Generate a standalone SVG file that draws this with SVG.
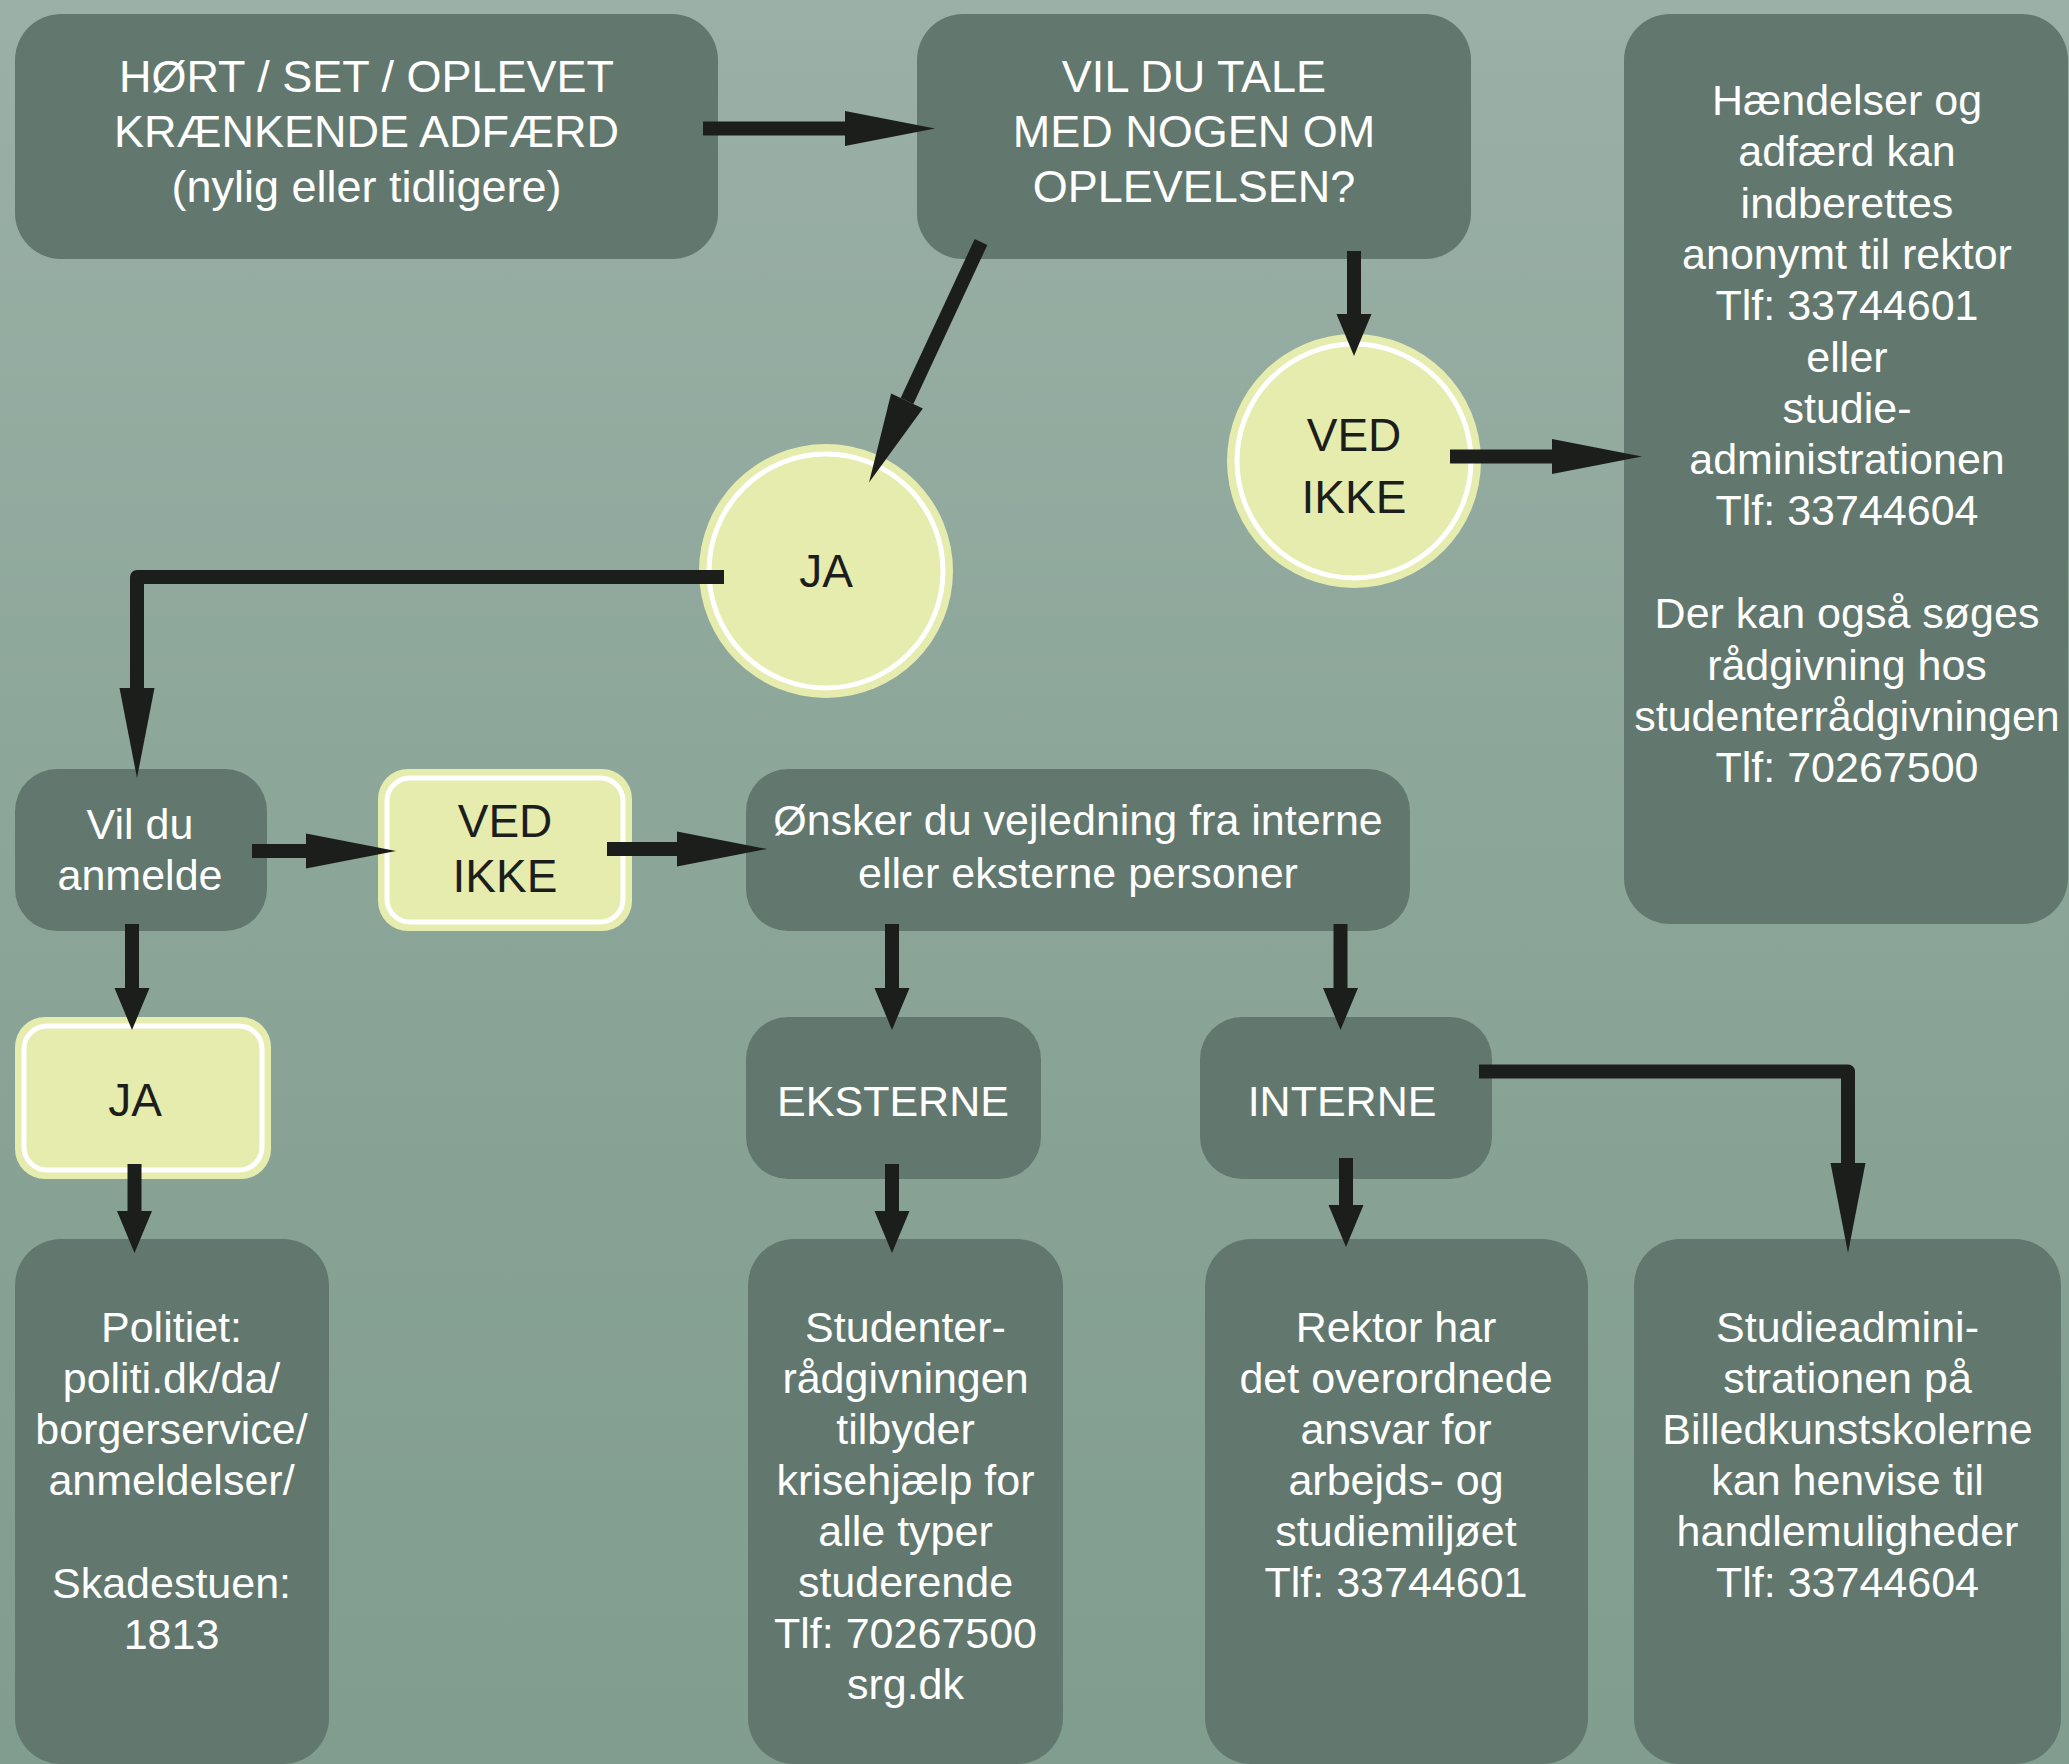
<svg xmlns="http://www.w3.org/2000/svg" width="2069" height="1764" viewBox="0 0 2069 1764">
<defs>
<linearGradient id="bg" x1="0" y1="0" x2="0" y2="1">
<stop offset="0" stop-color="#9bb0a7"/>
<stop offset="0.5" stop-color="#8ba598"/>
<stop offset="1" stop-color="#809d90"/>
</linearGradient>
<marker id="hl" markerUnits="userSpaceOnUse" markerWidth="92" markerHeight="40" refX="0" refY="0" orient="auto" overflow="visible" viewBox="0 -20 92 40">
<path d="M0,-17.5 L90,0 L0,17.5 Z" fill="#1c1e1c"/>
</marker>
<marker id="hs" markerUnits="userSpaceOnUse" markerWidth="44" markerHeight="40" refX="0" refY="0" orient="auto" overflow="visible" viewBox="0 -20 44 40">
<path d="M0,-17.5 L42,0 L0,17.5 Z" fill="#1c1e1c"/>
</marker>
</defs>
<style>
.box{fill:#62786e}
.yel{fill:#e6ecae}
.ring{fill:none;stroke:#ffffff;stroke-width:5}
.tw{fill:#ffffff;font-family:"Liberation Sans",Arial,sans-serif;font-size:43px;text-anchor:middle}
.tu{font-size:45px}
.tb{fill:#1c1e1c;font-family:"Liberation Sans",Arial,sans-serif;font-size:46px;text-anchor:middle}
.c{fill:none;stroke:#1c1e1c;stroke-width:14;stroke-linejoin:round}
.cl{marker-end:url(#hl)}
.cs{marker-end:url(#hs)}
</style>
<rect x="0" y="0" width="2069" height="1764" fill="url(#bg)"/>

<g id="n-hort">
<rect class="box" x="15" y="14" width="703" height="245" rx="46"/>
<text class="tw tu" x="366.5" y="92">HØRT / SET / OPLEVET</text>
<text class="tw tu" x="366.5" y="147">KRÆNKENDE ADFÆRD</text>
<text class="tw tu" x="366.5" y="202">(nylig eller tidligere)</text>
</g>

<g id="n-vil-du-tale">
<rect class="box" x="917" y="14" width="554" height="245" rx="46"/>
<text class="tw tu" x="1194" y="92">VIL DU TALE</text>
<text class="tw tu" x="1194" y="147">MED NOGEN OM</text>
<text class="tw tu" x="1194" y="202">OPLEVELSEN?</text>
</g>

<g id="n-info">
<rect class="box" x="1624" y="14" width="444" height="910" rx="46"/>
<text class="tw" x="1847" y="115">Hændelser og</text>
<text class="tw" x="1847" y="166">adfærd kan</text>
<text class="tw" x="1847" y="218">indberettes</text>
<text class="tw" x="1847" y="269">anonymt til rektor</text>
<text class="tw" x="1847" y="320">Tlf: 33744601</text>
<text class="tw" x="1847" y="372">eller</text>
<text class="tw" x="1847" y="423">studie-</text>
<text class="tw" x="1847" y="474">administrationen</text>
<text class="tw" x="1847" y="525">Tlf: 33744604</text>
<text class="tw" x="1847" y="628">Der kan også søges</text>
<text class="tw" x="1847" y="680">rådgivning hos</text>
<text class="tw" x="1847" y="731">studenterrådgivningen</text>
<text class="tw" x="1847" y="782">Tlf: 70267500</text>
</g>

<g id="n-ved-ikke-1">
<circle class="yel" cx="1354" cy="461" r="127"/>
<circle class="ring" cx="1354" cy="461" r="117"/>
<text class="tb" x="1354" y="451">VED</text>
<text class="tb" x="1354" y="513">IKKE</text>
</g>

<g id="n-ja-1">
<circle class="yel" cx="826" cy="571" r="127"/>
<circle class="ring" cx="826" cy="571" r="117"/>
<text class="tb" x="826" y="587">JA</text>
</g>

<g id="n-anmelde">
<rect class="box" x="15" y="769" width="252" height="162" rx="42"/>
<text class="tw" x="140" y="839">Vil du</text>
<text class="tw" x="140" y="890">anmelde</text>
</g>

<g id="n-ved-ikke-2">
<rect class="yel" x="378" y="769" width="254" height="162" rx="30"/>
<rect class="ring" x="387" y="778" width="236" height="144" rx="23"/>
<text class="tb" x="505" y="837">VED</text>
<text class="tb" x="505" y="892">IKKE</text>
</g>

<g id="n-onsker">
<rect class="box" x="746" y="769" width="664" height="162" rx="42"/>
<text class="tw" x="1078" y="834.5">Ønsker du vejledning fra interne</text>
<text class="tw" x="1078" y="887.5">eller eksterne personer</text>
</g>

<g id="n-ja-2">
<rect class="yel" x="15" y="1017" width="256" height="162" rx="30"/>
<rect class="ring" x="24" y="1026" width="238" height="144" rx="23"/>
<text class="tb" x="135" y="1115.5">JA</text>
</g>

<g id="n-eksterne">
<rect class="box" x="746" y="1017" width="295" height="162" rx="42"/>
<text class="tw" x="893" y="1115.5">EKSTERNE</text>
</g>

<g id="n-interne">
<rect class="box" x="1200" y="1017" width="292" height="162" rx="42"/>
<text class="tw" x="1342" y="1115.5">INTERNE</text>
</g>

<g id="n-politiet">
<rect class="box" x="15" y="1239" width="314" height="525" rx="46"/>
<text class="tw" x="171.5" y="1342">Politiet:</text>
<text class="tw" x="171.5" y="1393">politi.dk/da/</text>
<text class="tw" x="171.5" y="1444">borgerservice/</text>
<text class="tw" x="171.5" y="1495">anmeldelser/</text>
<text class="tw" x="171.5" y="1598">Skadestuen:</text>
<text class="tw" x="171.5" y="1649">1813</text>
</g>

<g id="n-studenter">
<rect class="box" x="748" y="1239" width="315" height="525" rx="46"/>
<text class="tw" x="905.5" y="1342">Studenter-</text>
<text class="tw" x="905.5" y="1393">rådgivningen</text>
<text class="tw" x="905.5" y="1444">tilbyder</text>
<text class="tw" x="905.5" y="1495">krisehjælp for</text>
<text class="tw" x="905.5" y="1546">alle typer</text>
<text class="tw" x="905.5" y="1597">studerende</text>
<text class="tw" x="905.5" y="1648">Tlf: 70267500</text>
<text class="tw" x="905.5" y="1699">srg.dk</text>
</g>

<g id="n-rektor">
<rect class="box" x="1205" y="1239" width="383" height="525" rx="46"/>
<text class="tw" x="1396" y="1342">Rektor har</text>
<text class="tw" x="1396" y="1393">det overordnede</text>
<text class="tw" x="1396" y="1444">ansvar for</text>
<text class="tw" x="1396" y="1495">arbejds- og</text>
<text class="tw" x="1396" y="1546">studiemiljøet</text>
<text class="tw" x="1396" y="1597">Tlf: 33744601</text>
</g>

<g id="n-studieadmin">
<rect class="box" x="1634" y="1239" width="427" height="525" rx="46"/>
<text class="tw" x="1847.5" y="1342">Studieadmini-</text>
<text class="tw" x="1847.5" y="1393">strationen på</text>
<text class="tw" x="1847.5" y="1444">Billedkunstskolerne</text>
<text class="tw" x="1847.5" y="1495">kan henvise til</text>
<text class="tw" x="1847.5" y="1546">handlemuligheder</text>
<text class="tw" x="1847.5" y="1597">Tlf: 33744604</text>
</g>

<g id="connectors">
<path class="c cl" d="M703,128.5 H845"/>
<path class="c cs" d="M1354,251 V314"/>
<path class="c cl" d="M981,242 L907,401"/>
<path class="c cl" d="M1450,456.5 H1552"/>
<path class="c cl" d="M724,577 H137 V688"/>
<path class="c cl" d="M252,851 H306"/>
<path class="c cl" d="M607,849 H677"/>
<path class="c cs" d="M132,924 V988"/>
<path class="c cs" d="M134.5,1164 V1211"/>
<path class="c cs" d="M892,924 V988"/>
<path class="c cs" d="M892,1164 V1211"/>
<path class="c cs" d="M1340.5,924 V988"/>
<path class="c cs" d="M1346,1158 V1205"/>
<path class="c cl" d="M1479,1071.5 H1848 V1163"/>
</g>
</svg>
